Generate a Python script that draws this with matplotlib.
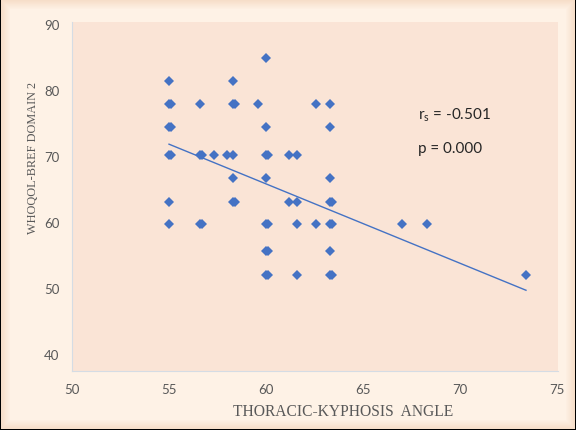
import numpy as np
import matplotlib
matplotlib.use("Agg")
import matplotlib.pyplot as plt

# kyphosis angle (deg) vs WHOQOL-BREF domain 2 score
kyphosis = [55.0, 55.0, 55.1, 55.0, 55.1, 55.0, 55.1, 55.0, 55.0,
            56.6, 56.6, 56.7, 56.6, 56.7,
            57.3,
            58.0,
            58.3, 58.3, 58.4, 58.3, 58.3, 58.3, 58.4,
            59.6,
            60.0, 60.0, 60.0, 60.1, 60.0, 60.0, 60.1, 60.0, 60.1, 60.0, 60.1,
            61.2, 61.2,
            61.6, 61.6, 61.6, 61.6,
            62.6, 62.6,
            63.3, 63.3, 63.3, 63.3, 63.4, 63.3, 63.4, 63.3, 63.3, 63.4,
            67.0, 68.3, 73.4]
domain2 = [81.4, 77.8, 77.8, 74.3, 74.3, 70.1, 70.1, 63.05, 59.6,
           77.8, 70.1, 70.1, 59.6, 59.6,
           70.1,
           70.1,
           81.4, 77.8, 77.8, 70.1, 66.7, 63.05, 63.05,
           77.8,
           84.8, 74.3, 70.1, 70.1, 66.7, 59.6, 59.6, 55.5, 55.5, 51.85, 51.85,
           70.1, 63.05,
           70.1, 63.05, 59.6, 51.85,
           77.8, 59.6,
           77.8, 74.3, 66.7, 63.05, 63.05, 59.6, 59.6, 55.5, 51.85, 51.85,
           59.6, 59.6, 51.85]

# linear trendline end points
trend_x = [55.0, 73.4]
trend_y = [71.76, 49.6]

x_ticks = [50, 55, 60, 65, 70, 75]
y_ticks = [40, 50, 60, 70, 80, 90]

blue = "#4472C4"
grey = "#595959"

fig = plt.figure(figsize=(5.76, 4.31), dpi=100)

# chart area with soft bevelled edge
H, W = 431, 576
yy, xx = np.mgrid[0:H, 0:W]
d = np.minimum(np.minimum(xx, W - 1 - xx), np.minimum(yy, H - 1 - yy)).astype(float)
t = np.clip(d / 10.0, 0, 1)[..., None]
edge = np.array([246, 220, 198]) / 255.0
inner = np.array([254, 242, 230]) / 255.0
bgimg = edge + (inner - edge) * t
bgimg[[0, -1], :, :] = 0
bgimg[:, [0, -1], :] = 0
bg = fig.add_axes([0, 0, 1, 1], zorder=-1)
bg.imshow(bgimg, aspect="auto", interpolation="nearest")
bg.axis("off")

ax = fig.add_axes([72 / W, 1 - 372 / H, (558 - 72) / W, (372 - 23.3) / H])
ax.set_facecolor("#FAE4D6")
ax.plot(kyphosis, domain2, "D", color=blue, ms=4.8, mew=0, zorder=3)
ax.plot(trend_x, trend_y, color=blue, lw=1.0, zorder=2)

ax.set_xlim(50, 75.05)
ax.set_ylim(37.35, 90.25)
ax.set_xticks(x_ticks)
ax.set_yticks(y_ticks)
ax.tick_params(length=0, labelsize=9.5, labelcolor=grey, pad=9)
for lab in ax.get_xticklabels() + ax.get_yticklabels():
    lab.set_family("Lato")
for s in ["top", "right"]:
    ax.spines[s].set_visible(False)
for s in ["left", "bottom"]:
    ax.spines[s].set_color("#D5DCE4")
    ax.spines[s].set_linewidth(0.8)

ax.text(67.84, 76.3, r"r$_\mathregular{s}$ = -0.501", fontsize=11, family="Lato",
        color="#262626", va="center")
ax.text(67.84, 71.15, "p = 0.000", fontsize=11, family="Lato",
        color="#262626", va="center")

fig.text(343 / W, 1 - 412 / H, "THORACIC-KYPHOSIS  ANGLE", family="Liberation Serif",
         fontsize=11.2, color=grey, ha="center", va="center")
fig.text(33 / W, 1 - 158 / H, "WHOQOL-BREF DOMAIN 2", family="Liberation Serif",
         fontsize=8.8, color=grey, ha="center", va="center", rotation=90)

fig.savefig("out.png", dpi=100)
